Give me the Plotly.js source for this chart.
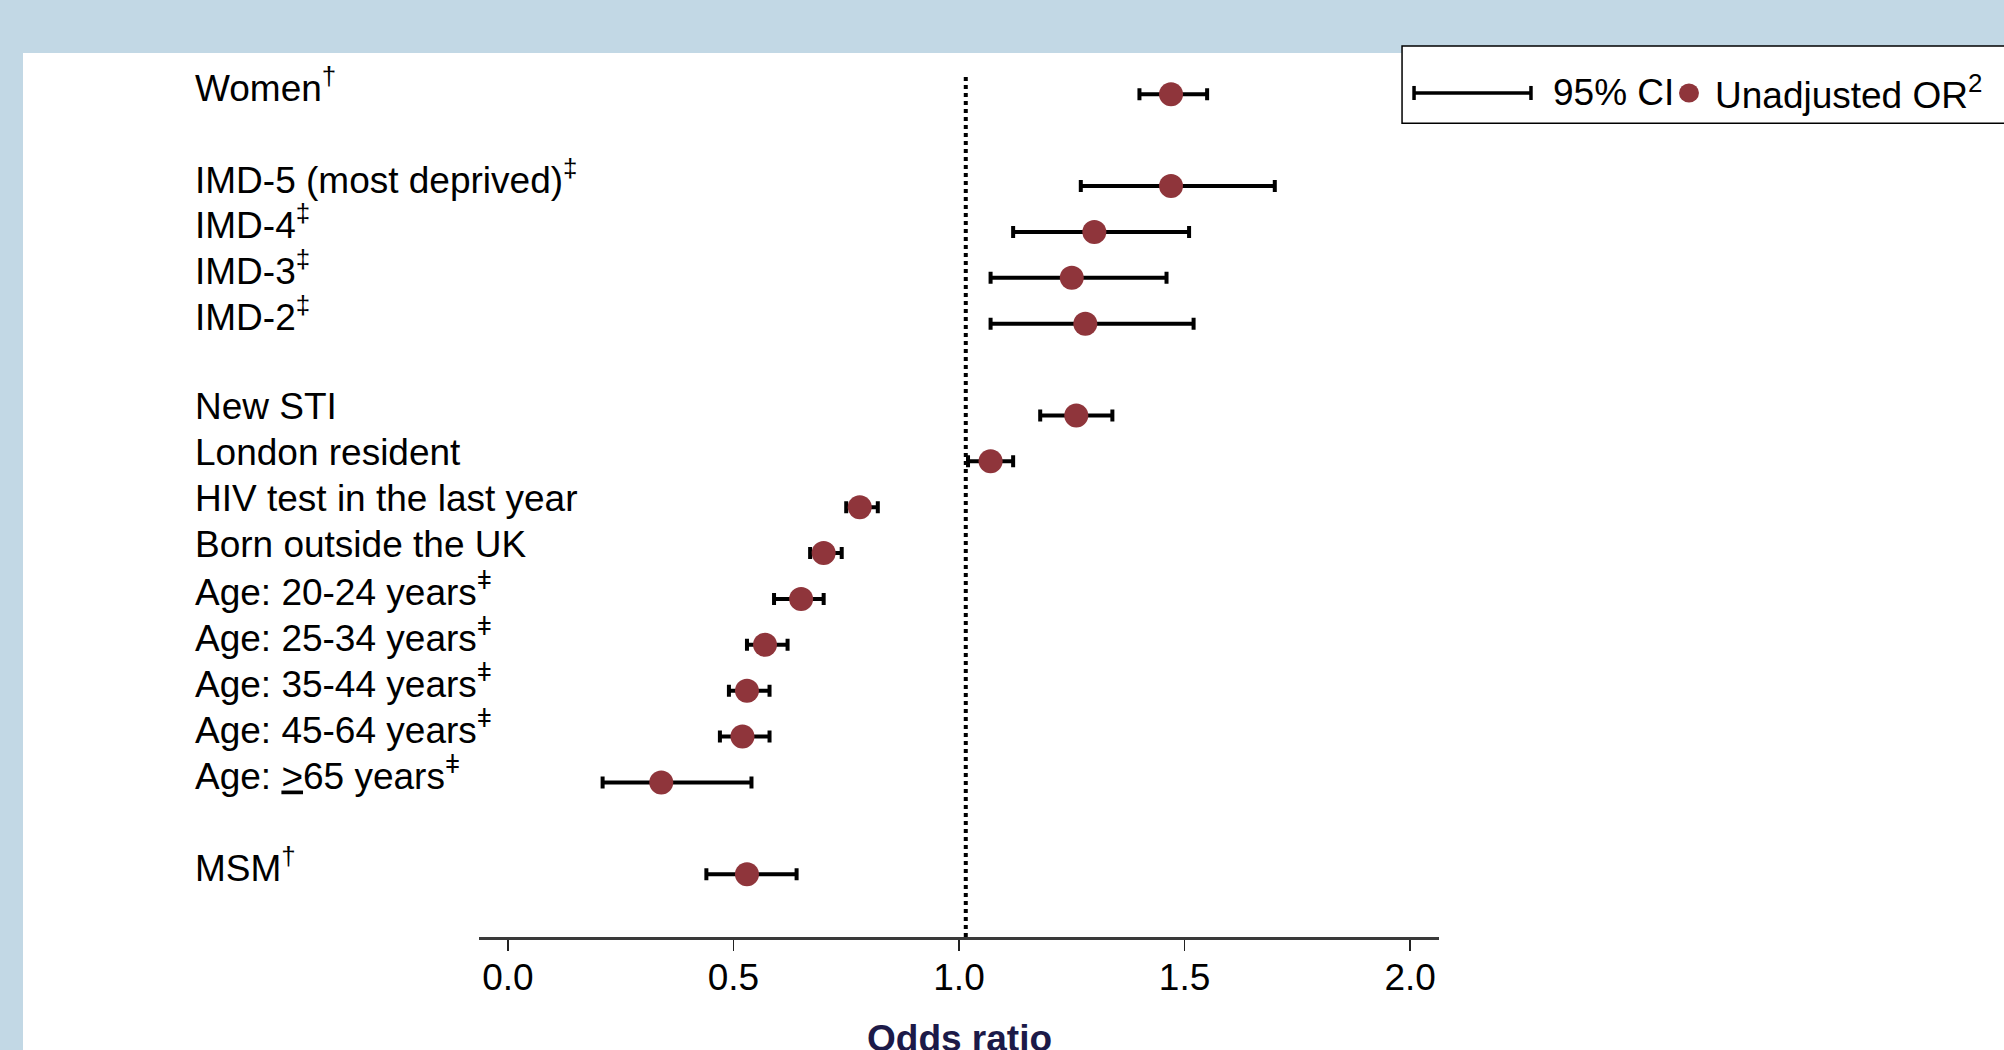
<!DOCTYPE html>
<html>
<head>
<meta charset="utf-8">
<script src="https://cdn.plot.ly/plotly-3.0.1.min.js"></script>
<style>
  html, body { margin: 0; padding: 0; background: #c2d8e5; }
  #chart { width: 2004px; height: 1050px; }
</style>
</head>
<body>
<div id="chart"></div>
<script>
// ---------- data ----------
const categories = [
  'Women',
  'IMD-5 (most deprived)', 'IMD-4', 'IMD-3', 'IMD-2',
  'New STI', 'London resident', 'HIV test in the last year', 'Born outside the UK',
  'Age: 20-24 years', 'Age: 25-34 years', 'Age: 35-44 years', 'Age: 45-64 years',
  'Age: <u>></u>65 years',
  'MSM'
];
const footnoteMarks = ['†', '‡', '‡', '‡', '‡', '', '', '', '', 'ǂ', 'ǂ', 'ǂ', 'ǂ', 'ǂ', '†'];
const groupSizes = [1, 4, 9, 1];   // groups separated by an empty row
const oddsRatio = [1.47, 1.47, 1.30, 1.25, 1.28, 1.26, 1.07, 0.78, 0.70, 0.65, 0.57, 0.53, 0.52, 0.34, 0.53];
const ciLower   = [1.40, 1.27, 1.12, 1.07, 1.07, 1.18, 1.02, 0.75, 0.67, 0.59, 0.53, 0.49, 0.47, 0.21, 0.44];
const ciUpper   = [1.55, 1.70, 1.51, 1.46, 1.52, 1.34, 1.12, 0.82, 0.74, 0.70, 0.62, 0.58, 0.58, 0.54, 0.64];
const xTickValues = [0, 0.5, 1.0, 1.5, 2.0];
const xTickLabels = ['0.0', '0.5', '1.0', '1.5', '2.0'];
const referenceOR = 1.015;
const legendLabels = ['95% CI', 'Unadjusted OR<sup>2</sup>'];
const xAxisTitle = 'Odds ratio';

// ---------- build category order with blank spacer rows ----------
const yOrder = [];
let k = 0;
groupSizes.forEach((n, gi) => {
  if (gi > 0) yOrder.push(' '.repeat(gi));
  for (let j = 0; j < n; j++) yOrder.push(categories[k++]);
});

const FONT = 'Liberation Sans, Arial, Helvetica, sans-serif';
const RED = '#8f353b';

const trace = {
  type: 'scatter',
  mode: 'markers',
  x: oddsRatio,
  y: categories,
  marker: { color: RED, size: 24, symbol: 'circle', line: { width: 0 } },
  error_x: {
    type: 'data', symmetric: false,
    array: oddsRatio.map((v, i) => ciUpper[i] - v),
    arrayminus: oddsRatio.map((v, i) => v - ciLower[i]),
    color: '#000000', thickness: 4, width: 6
  },
  showlegend: false,
  hoverinfo: 'skip'
};

// label annotations (left aligned, outside plot area)
const labelAnnotations = categories.map((c, i) => ({
  xref: 'paper', yref: 'y',
  x: -0.2975, y: c,
  xanchor: 'left', yanchor: 'middle', yshift: 9,
  text: c + (footnoteMarks[i] ? '<sup>' + footnoteMarks[i] + '</sup>' : ''),
  showarrow: false,
  font: { family: FONT, size: 37, color: '#000000' }
}));

const LEG_Y = 0.9624;
const otherAnnotations = [
  { xref: 'paper', yref: 'paper', x: 1.1167, y: LEG_Y, xanchor: 'left', yanchor: 'middle',
    text: legendLabels[0], showarrow: false, font: { family: FONT, size: 37, color: '#000' } },
  { xref: 'paper', yref: 'paper', x: 1.2854, y: LEG_Y, xanchor: 'left', yanchor: 'middle',
    text: legendLabels[1], showarrow: false, font: { family: FONT, size: 37, color: '#000' } },
  // x-axis title (placed as annotation so it can sit at the slide's lower edge)
  { xref: 'paper', yref: 'paper', x: 0.5, y: -0.1163, xanchor: 'center', yanchor: 'middle',
    text: '<b>' + xAxisTitle + '</b>', showarrow: false,
    font: { family: FONT, size: 37, color: '#1c1a48' } }
];

const shapes = [
  // white slide panel
  { type: 'rect', xref: 'paper', yref: 'paper', x0: -0.475, x1: 1.7, y0: -0.2, y1: 1.008,
    fillcolor: '#ffffff', line: { width: 0 }, layer: 'below' },
  // reference line at OR = 1
  { type: 'line', xref: 'x', yref: 'paper', x0: referenceOR, x1: referenceOR, y0: 0, y1: 0.985,
    line: { color: '#000000', width: 4, dash: 'dot' } },
  // legend box
  { type: 'rect', xref: 'paper', yref: 'paper', x0: 0.9615, x1: 1.8, y0: 0.928, y1: 1.016,
    fillcolor: '#ffffff', line: { color: '#000000', width: 1.5 } },
  // legend CI sample
  { type: 'line', xref: 'paper', yref: 'paper', x0: 0.974, x1: 1.0958, y0: LEG_Y, y1: LEG_Y,
    line: { color: '#000', width: 3.5 } },
  { type: 'line', xref: 'paper', yref: 'paper', x0: 0.974, x1: 0.974, y0: LEG_Y - 0.008, y1: LEG_Y + 0.008,
    line: { color: '#000', width: 3.5 } },
  { type: 'line', xref: 'paper', yref: 'paper', x0: 1.0958, x1: 1.0958, y0: LEG_Y - 0.008, y1: LEG_Y + 0.008,
    line: { color: '#000', width: 3.5 } },
  // legend marker sample
  { type: 'circle', xref: 'paper', yref: 'paper', x0: 1.2500, x1: 1.2708, y0: LEG_Y - 0.0108, y1: LEG_Y + 0.0108,
    fillcolor: RED, line: { width: 0 } }
];

const layout = {
  width: 2004, height: 1050,
  margin: { l: 479, r: 565, t: 60, b: 113, pad: 0 },
  paper_bgcolor: '#c2d8e5',
  plot_bgcolor: 'rgba(0,0,0,0)',
  showlegend: false,
  font: { family: FONT, color: '#000' },
  xaxis: {
    range: [-0.064, 2.064],
    tickvals: xTickValues, ticktext: xTickLabels,
    showgrid: false, zeroline: false,
    showline: true, linecolor: '#3a3a3a', linewidth: 2.5,
    ticks: 'outside', ticklen: 11, tickwidth: 1.5, tickcolor: '#222',
    ticklabelstandoff: -5,
    tickfont: { family: FONT, size: 37, color: '#000' },
    fixedrange: true
  },
  yaxis: {
    type: 'category',
    categoryorder: 'array', categoryarray: yOrder,
    range: [18.37, -0.748], autorange: false,
    showgrid: false, zeroline: false, showline: false,
    showticklabels: false, ticks: '',
    fixedrange: true
  },
  shapes: shapes,
  annotations: labelAnnotations.concat(otherAnnotations)
};

Plotly.newPlot('chart', [trace], layout, { displayModeBar: false, staticPlot: true });
</script>
</body>
</html>
